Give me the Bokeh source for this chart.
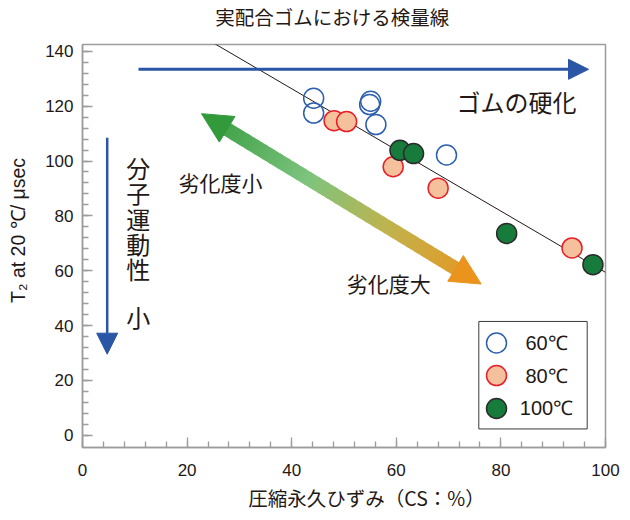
import math
from bokeh.plotting import figure
from bokeh.models import Label, Arrow, NormalHead, FixedTicker, ColumnDataSource, Title
from bokeh.embed import file_html
from bokeh.resources import INLINE

# ---------------- data ----------------
x_ticks = [0, 20, 40, 60, 80, 100]
y_ticks = [0, 20, 40, 60, 80, 100, 120, 140]

cs_60 = [44.2, 44.2, 55.1, 54.9, 56.1, 69.6]
t2_60 = [122.9, 117.5, 121.8, 120.6, 113.3, 102.2]
cs_80 = [48.1, 50.5, 59.4, 68.0, 93.6]
t2_80 = [114.7, 114.4, 97.9, 90.1, 68.3]
cs_100 = [60.7, 63.3, 81.1, 97.6]
t2_100 = [103.9, 102.7, 73.6, 62.2]
fit_cs = [0, 100]
fit_t2 = [171.0, 59.4]

series_labels = ["60℃", "80℃", "100℃"]
title_text = "実配合ゴムにおける検量線"
x_label = "圧縮永久ひずみ（CS：%）"
y_label = "T₂ at 20 ℃/ μsec"

# ---------------- layout ----------------
W, H = 620, 520
FL, FR, FT, FB = 82, 605, 41, 447          # frame edges in canvas pixels
X0, X1, Y0, Y1 = 0, 100, -4.5, 142.5

def px_x(px):
    return X0 + (px - FL) * (X1 - X0) / (FR - FL)

def px_y(py):
    return Y1 - (py - FT) * (Y1 - Y0) / (FB - FT)

TXT = "#231815"
BLUE = "#2b55a5"
GRAY = "#9c9c9c"
JP = "Noto Sans CJK JP"
LAT = "Liberation Sans"

p = figure(width=W, height=H, x_range=(X0, X1), y_range=(Y0, Y1),
           output_backend="svg", toolbar_location=None, title=None,
           min_border_left=FL, min_border_right=W - FR,
           min_border_top=FT, min_border_bottom=H - FB)
p.background_fill_color = "white"
p.border_fill_color = "white"
p.outline_line_color = GRAY
p.outline_line_width = 1.5
p.xgrid.visible = False
p.ygrid.visible = False

p.xaxis.ticker = FixedTicker(ticks=x_ticks, minor_ticks=list(range(0, 101, 4)))
p.yaxis.ticker = FixedTicker(ticks=y_ticks, minor_ticks=list(range(0, 141, 4)))
for ax in (p.xaxis[0], p.yaxis[0]):
    ax.axis_line_color = GRAY
    ax.axis_line_width = 1.5
    ax.major_tick_line_color = GRAY
    ax.minor_tick_line_color = GRAY
    ax.major_tick_line_width = 1.3
    ax.minor_tick_line_width = 1.3
    ax.major_tick_in = 10
    ax.major_tick_out = 0
    ax.minor_tick_in = 6
    ax.minor_tick_out = 0
    ax.major_label_text_font = LAT
    ax.major_label_text_font_size = "17px"
    ax.major_label_text_color = TXT
p.xaxis.major_label_standoff = 16
p.yaxis.major_label_standoff = 9

# titles placed in the side panels (spacers first, nearest the frame)
def side_title(text, side, size, font, offset, standoff=0, valign="middle"):
    p.add_layout(Title(text=text, align="left", offset=offset, vertical_align=valign,
                       text_font=font, text_font_size=size, text_font_style="normal",
                       text_color=TXT, standoff=standoff), side)

side_title(" ", "above", "1px", LAT, 0, standoff=10)
side_title(title_text, "above", "19.5px", JP, 132.7)
side_title(x_label, "below", "19.5px", JP, 165.8, standoff=6)
side_title(" ", "left", "1px", LAT, 0, standoff=10)
side_title(y_label, "left", "19.5px", LAT, 144.5)

# regression line
p.line(fit_cs, fit_t2, line_color=TXT, line_width=1)

# gradient double arrow (shaft as short colored pieces)
stops = [(0.0, "#339a3c"), (0.38, "#7dc47e"), (0.68, "#c2b24c"), (1.0, "#ea941e")]

def grad(t):
    for (t0, c0), (t1, c1) in zip(stops[:-1], stops[1:]):
        if t <= t1:
            f = (t - t0) / (t1 - t0)
            a = [int(c0[i:i + 2], 16) for i in (1, 3, 5)]
            b = [int(c1[i:i + 2], 16) for i in (1, 3, 5)]
            return "#%02x%02x%02x" % tuple(round(a[k] + (b[k] - a[k]) * f) for k in range(3))
    return stops[-1][1]

ax_, ay_ = 201.0, 110.7      # upper-left tip (canvas px)
bx_, by_ = 480.7, 282.3      # lower-right tip (canvas px)
L = math.hypot(bx_ - ax_, by_ - ay_)
ux, uy = (bx_ - ax_) / L, (by_ - ay_) / L
HEAD = 30
s_start, s_end = HEAD - 3, L - HEAD + 3
N = 90
xs, ys, cols = [], [], []
for i in range(N):
    d0 = s_start + (s_end - s_start) * i / N
    d1 = s_start + (s_end - s_start) * (i + 1) / N + 0.8
    xs.append([px_x(ax_ + ux * d0), px_x(ax_ + ux * d1)])
    ys.append([px_y(ay_ + uy * d0), px_y(ay_ + uy * d1)])
    cols.append(grad(((d0 + d1) / 2) / L))
p.multi_line(xs="xs", ys="ys", line_color="c", line_width=14, line_cap="butt",
             source=ColumnDataSource(dict(xs=xs, ys=ys, c=cols)))
p.add_layout(Arrow(x_start=px_x(ax_), y_start=px_y(ay_), x_end=px_x(bx_), y_end=px_y(by_),
                   line_alpha=0,
                   start=NormalHead(size=HEAD, fill_color=stops[0][1], line_color=stops[0][1], line_width=1),
                   end=NormalHead(size=HEAD, fill_color=stops[-1][1], line_color=stops[-1][1], line_width=1)))

# data points
styles = [
    dict(fill_color="white", fill_alpha=0, line_color="#2d5fae", line_width=1.5),
    dict(fill_color="#f5c19c", line_color="#e8202a", line_width=1.5),
    dict(fill_color="#177b3b", line_color="#2b2b2b", line_width=1.5),
]
for xv, yv, st in zip((cs_60, cs_80, cs_100), (t2_60, t2_80, t2_100), styles):
    p.scatter(xv, yv, marker="circle", size=20, **st)

# manual legend
p.quad(left=px_x(478.3), right=px_x(586.7), top=px_y(320), bottom=px_y(428.3),
       fill_color="white", line_color="#3a3a3a", line_width=1)
for lab, py, st in zip(series_labels, (341.7, 374.5, 407.7), styles):
    p.scatter([px_x(496)], [px_y(py)], marker="circle", size=20, **st)
    p.add_layout(Label(x=px_x(546), y=px_y(py), text=lab, text_font=LAT,
                       text_font_size="20px", text_color=TXT,
                       text_align="center", text_baseline="middle"))

# arrows
p.add_layout(Arrow(x_start=px_x(138), y_start=px_y(66), x_end=px_x(588), y_end=px_y(66),
                   line_color=BLUE, line_width=3,
                   end=NormalHead(size=20, fill_color=BLUE, line_color=BLUE, line_width=1)))
p.add_layout(Arrow(x_start=px_x(106.7), y_start=px_y(135), x_end=px_x(106.7), y_end=px_y(353),
                   line_color=BLUE, line_width=2.5,
                   end=NormalHead(size=21, fill_color=BLUE, line_color=BLUE, line_width=1)))

def label(text, px, py, size, font=JP, angle=0.0):
    p.add_layout(Label(x=px_x(px), y=px_y(py), text=text, text_font=font,
                       text_font_size=size, text_color=TXT, angle=angle,
                       text_align="center", text_baseline="middle"))

label("ゴムの硬化", 516, 98, "24px")
label("劣化度小", 220, 180, "21px")
label("劣化度大", 388.3, 281.5, "21px")
for i, ch in enumerate("分子運動性"):
    label(ch, 137.7, 165 + 25.4 * i, "24px")
label("小", 137.7, 315, "24px")

open("out.html", "w").write(file_html(p, INLINE))
